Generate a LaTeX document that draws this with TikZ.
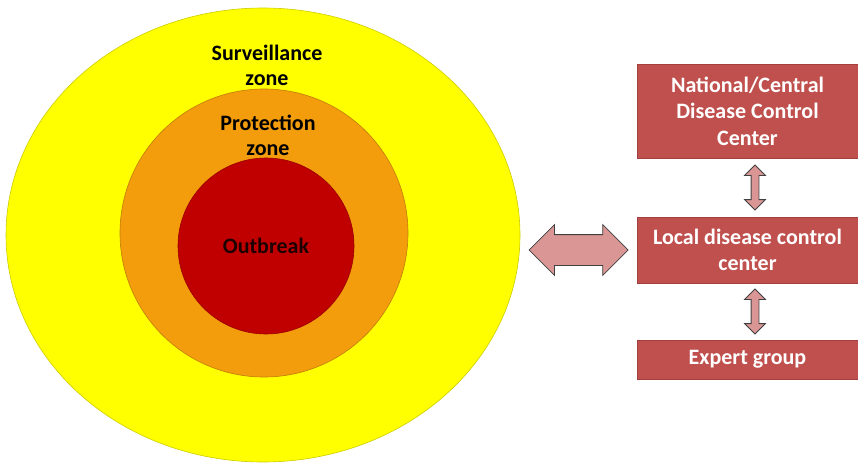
\documentclass[tikz,border=0pt]{standalone}
\usepackage{fontspec}
\setmainfont{Carlito}
\usetikzlibrary{shapes.geometric,shapes.arrows,positioning,calc}

\definecolor{survyellow}{HTML}{FFFF00}
\definecolor{protorange}{HTML}{F39C0C}
\definecolor{outbred}{HTML}{C00000}
\definecolor{boxred}{HTML}{C0504D}
\definecolor{boxedge}{HTML}{A33F3C}
\definecolor{arrowpink}{HTML}{D99694}

\begin{document}
\begin{tikzpicture}[x=1pt,y=-1pt,
    zone/.style={draw=#1!80!black, line width=0.6pt, inner sep=0pt},
    lbl/.style={font=\fontsize{22}{25}\selectfont\bfseries, align=center, inner sep=0pt},
    centre/.style={rectangle, fill=boxred, draw=boxedge, line width=0.6pt,
                   minimum width=221pt, inner sep=0pt, align=center, text=white,
                   font=\fontsize{22}{26.5}\selectfont\bfseries},
    link/.style={double arrow, fill=arrowpink, draw=black!75, line width=0.8pt,
                 inner xsep=0pt, double arrow tip angle=90}]
\useasboundingbox (0,0) rectangle (858,468);

% zones
\node[zone=survyellow, ellipse, fill=survyellow, minimum width=514pt, minimum height=454pt] (surv) at (263,235) {};
\node[zone=protorange, circle, fill=protorange, minimum size=288pt] (prot) at (264,233) {};
\node[zone=outbred, circle, fill=outbred, minimum size=176pt, text=black!85!outbred,
      font=\fontsize{22}{25}\selectfont\bfseries] (outb) at (266,246) {Outbreak};

\node[lbl] (survlbl) at (267,65.5) {Surveillance\\zone};
\node[lbl] (protlbl) at (268,135.5) {Protection\\zone};

% control centers
\node[centre, minimum height=94pt] (natl) at (747.5,111) {National/Central\\Disease Control\\Center};
\node[centre, minimum height=66pt] (local) at (747.5,250) {Local disease control\\center};
\node[centre, minimum height=39pt] (expert) at (747.5,359.5) {Expert group};

% links
\node[link, inner ysep=15pt, minimum height=99pt, minimum width=50pt, double arrow head extend=10pt,
      left=8pt of local] (hub) {};
\node[link, rotate=90, inner ysep=3.5pt, minimum height=45pt, minimum width=20pt, double arrow head extend=6.5pt]
  (uplink) at ($(natl.south)!.5!(local.north)+(7.5,0)$) {};
\node[link, rotate=90, inner ysep=3.5pt, minimum height=45pt, minimum width=20pt, double arrow head extend=6.5pt]
  (downlink) at ($(local.south)!.5!(expert.north)+(7.5,0)$) {};
\end{tikzpicture}
\end{document}
